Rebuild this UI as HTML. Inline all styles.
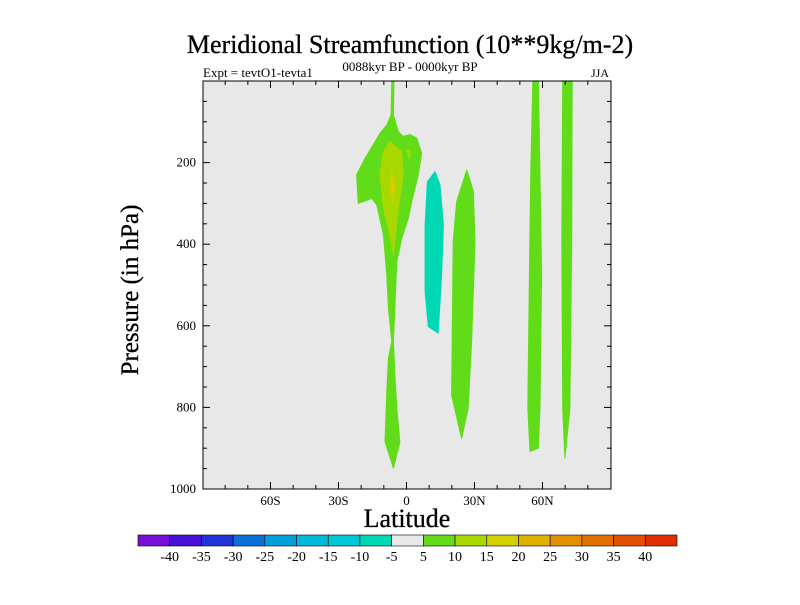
<!DOCTYPE html>
<html><head><meta charset="utf-8"><style>
body{margin:0;background:#fff;width:800px;height:600px;overflow:hidden}
text{font-family:"Liberation Serif",serif;fill:#000}
</style></head><body>
<svg width="800" height="600">
<text x="410" y="53" font-size="26" text-anchor="middle" stroke="#000" stroke-width="0.3">Meridional Streamfunction (10**9kg/m-2)</text>
<text x="203" y="77" font-size="13">Expt = tevtO1-tevta1</text>
<text x="410" y="71" font-size="13" text-anchor="middle">0088kyr BP - 0000kyr BP</text>
<text x="609" y="77" font-size="12" text-anchor="end">JJA</text>
<rect x="203" y="81" width="408" height="408" fill="#e8e8e8"/>
<g id="shapes"></g>
<rect x="203" y="81" width="408" height="408" fill="none" stroke="#000" stroke-width="1"/>
<g id="axes"></g>
<text x="407" y="527" font-size="26" text-anchor="middle" stroke="#000" stroke-width="0.3">Latitude</text>
<text transform="translate(138,290) rotate(-90)" font-size="25" text-anchor="middle" stroke="#000" stroke-width="0.3">Pressure (in hPa)</text>
<g id="cbar"></g>
</svg>
<script>
const latTicks=[-60,-30,0,30,60];
const latTickLabels=["60S","30S","0","30N","60N"];
const presTicks=[200,400,600,800,1000];
const levelLabels=[-40,-35,-30,-25,-20,-15,-10,-5,5,10,15,20,25,30,35,40];
const levelColors=["#7a10d8","#4a10d8","#2034d8","#0a70d8","#00a0d8","#00b8d8","#00c8d8","#00d8b4","#e8e8e8","#60dc18","#a8d800","#d4d000","#e0b000","#e09000","#e07000","#e05000","#e03000"];
// contour regions: [lat, pressure] pairs
const regionMainLat=[-6.5,-5.5,-5.8,-3.6,-1.4,1.5,4.5,6.7,5.2,2.3,0.8,-2.1,-4.3,-5.1,-5.8,-5.1,-4.3,-2.9,-5.8,-9.5,-8.7,-8.0,-6.5,-8.0,-8.7,-10.2,-13.1,-15.3,-21.3,-22.0,-18.3,-11.7,-8.7,-6.8];
const regionMainP=[0,0,83,124,136,131,140,177,230,296,337,386,443,557,639,721,802,884,949,884,761,680,639,557,476,377,304,288,300,230,190,128,108,83];
const regionMidLat=[-7.3,-2.1,-1.4,-3.6,-5.8,-7.3,-10.2,-11.7,-10.2];
const regionMidP=[149,173,230,312,426,377,312,230,173];
const regionBlobLat=[0.0,1.8,1.2];
const regionBlobP=[168,172,190];
const regionCoreLat=[-6.5,-5.1,-5.8,-7.3];
const regionCoreP=[222,263,296,263];
const regionNegLat=[12.6,14.8,16.3,15.5,14.0,9.6,8.2,8.2,9.2];
const regionNegP=[222,255,353,476,618,602,516,353,247];
const regionC3Lat=[26.6,29.5,30.2,28.7,27.2,24.3,19.9,20.6,22.1];
const regionC3P=[218,271,394,639,802,876,770,394,296];
const regionC4Lat=[55.7,58.2,58.9,59.6,58.9,58.2,54.5,53.5,54.2,54.8];
const regionC4P=[0,0,230,476,802,900,908,802,476,230];
const regionC5Lat=[68.9,73.1,72.9,72.1,69.9,68.9,68.5];
const regionC5P=[0,0,394,802,925,802,394];
const regions=[[regionMainLat,regionMainP,9,"streamfunction-region-sh-cell"],[regionMidLat,regionMidP,10,"streamfunction-region-10-15"],[regionBlobLat,regionBlobP,10,"streamfunction-region-10-15-small"],[regionCoreLat,regionCoreP,11,"streamfunction-region-15-20"],[regionNegLat,regionNegP,7,"streamfunction-region-negative"],[regionC3Lat,regionC3P,9,"streamfunction-region-30n"],[regionC4Lat,regionC4P,9,"streamfunction-region-55n"],[regionC5Lat,regionC5P,9,"streamfunction-region-70n"]];
const NS="http://www.w3.org/2000/svg";
const X=l=>406.5+l*408/180, Y=p=>81+p*408/1000;
const sh=document.getElementById('shapes');
regions.forEach(r=>{const pg=document.createElementNS(NS,'polygon');
pg.setAttribute('points',r[0].map((l,i)=>X(l).toFixed(1)+','+Y(r[1][i]).toFixed(1)).join(' '));
pg.setAttribute('fill',levelColors[r[2]]);
pg.setAttribute('stroke',levelColors[r[2]]);
pg.setAttribute('stroke-width','1');
pg.setAttribute('stroke-linejoin','round');


sh.appendChild(pg);});
const ax=document.getElementById('axes');
function line(x1,y1,x2,y2,n){const e=document.createElementNS(NS,'line');e.setAttribute('x1',x1);e.setAttribute('y1',y1);e.setAttribute('x2',x2);e.setAttribute('y2',y2);e.setAttribute('stroke','#000');


ax.appendChild(e);}
function txt(x,y,s,anc,n){const t=document.createElementNS(NS,'text');t.setAttribute('x',x);t.setAttribute('y',y);t.setAttribute('font-size','13');t.setAttribute('text-anchor',anc);t.textContent=s;


ax.appendChild(t);}
for(let l=-80;l<=80;l+=10){const maj=l%30===0;const len=maj?7:4;
line(X(l),489,X(l),489-len,'x-tick');line(X(l),81,X(l),81+len,'x-tick-top');}
latTicks.forEach((l,i)=>txt(X(l),505,latTickLabels[i],'middle','x-tick-label'));
for(let p=50;p<1000;p+=50){const maj=p%200===0;const len=maj?7:4;
line(203,Y(p),203+len,Y(p),'y-tick');line(611,Y(p),611-len,Y(p),'y-tick-right');}
presTicks.forEach(p=>txt(196,Y(p)+4,String(p),'end','y-tick-label'));
const cb=document.getElementById('cbar');const w=539/17;
levelColors.forEach((c,i)=>{const r=document.createElementNS(NS,'rect');r.setAttribute('x',138+i*w);r.setAttribute('y',535);r.setAttribute('width',w);r.setAttribute('height',11);r.setAttribute('fill',c);r.setAttribute('stroke','#000');r.setAttribute('stroke-width','0.6');


cb.appendChild(r);});
levelLabels.forEach((v,i)=>{const t=document.createElementNS(NS,'text');t.setAttribute('x',138+(i+1)*w);t.setAttribute('y',561);t.setAttribute('font-size','14');t.setAttribute('text-anchor','middle');t.textContent=v;


cb.appendChild(t);});
</script>
</body></html>
